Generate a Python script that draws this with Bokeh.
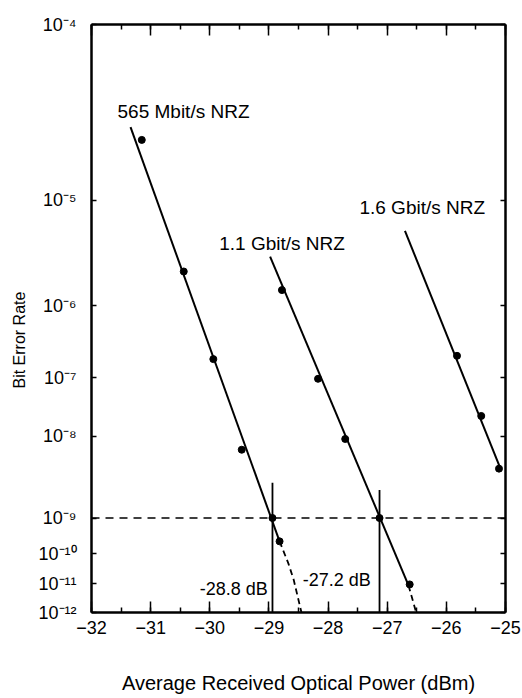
import numpy as np
from bokeh.plotting import figure
from bokeh.models import (Range1d, LinearAxis, FixedTicker, SingleIntervalTicker,
                          CustomJSTickFormatter, Span, Title)
from bokeh.embed import file_html
from bokeh.resources import INLINE
from bokeh.core.properties import value

# ---------------- axis definitions ----------------
X_MIN, X_MAX = -32, -25
Y_EXPONENTS = [-4, -5, -6, -7, -8, -9, -10, -11, -12]
Y_TICK_LABELS = ["10⁻⁴", "10⁻⁵", "10⁻⁶", "10⁻⁷", "10⁻⁸", "10⁻⁹", "10⁻¹⁰", "10⁻¹¹", "10⁻¹²"]
# non-uniform BER scale of the original chart: position of each decade (1e-12 -> 0, 1e-4 -> 588)
BER_SCALE = [588, 412.5, 307, 235, 176.5, 94.5, 59, 29, 0]

# ---------------- data ----------------
# measured points
pts565_x = [-31.15, -30.44, -29.94, -29.46, -28.94, -28.82]
pts565_ber = [2.2e-5, 2.1e-6, 1.8e-7, 6.8e-9, 1.0e-9, 2.2e-10]
pts11_x = [-28.78, -28.17, -27.71, -27.13, -26.62]
pts11_ber = [1.4e-6, 9.5e-8, 9.2e-9, 1.0e-9, 9.3e-12]
pts16_x = [-25.82, -25.41, -25.11]
pts16_ber = [2.0e-7, 2.2e-8, 4.0e-9]

# fitted lines (solid) and extrapolations (dashed)
fit565_x = [-31.34, -28.82]
fit565_ber = [2.6e-5, 2.2e-10]
ext565_x = [-28.82, -28.67, -28.58, -28.45]
ext565_ber = [2.2e-10, 4.6e-11, 1.3e-11, 1.0e-12]
fit11_x = [-28.98, -26.64]
fit11_ber = [2.9e-6, 8.6e-12]
ext11_x = [-26.64, -26.51]
ext11_ber = [8.6e-12, 1.0e-12]
fit16_x = [-26.70, -25.085]
fit16_ber = [5.1e-6, 4.0e-9]

# sensitivity markers at BER = 1e-9
REF_BER = 1e-9
sens_x = [-28.94, -27.13]
sens_top_ber = [2.7e-9, 2.2e-9]
sens_bottom_ber = [1e-12, 1e-12]
sens_labels = ["-28.8 dB", "-27.2 dB"]

series_labels = ["565 Mbit/s NRZ", "1.1 Gbit/s NRZ", "1.6 Gbit/s NRZ"]
series_label_x = [-31.56, -29.84, -27.47]
series_label_ber = [3.2e-5, 3.9e-6, 8.5e-6]

FONT = "Liberation Sans"


def ber_to_u(ber):
    e = np.log10(np.asarray(ber, dtype=float))
    return np.interp(-e, [-v for v in Y_EXPONENTS], BER_SCALE)


p = figure(width=522, height=698, output_backend="svg", toolbar_location=None,
           x_range=Range1d(X_MIN, X_MAX), y_range=Range1d(0, 588),
           min_border_left=90, min_border_right=17, min_border_top=24, min_border_bottom=86)
p.xgrid.visible = False
p.ygrid.visible = False
p.outline_line_color = None
p.background_fill_color = "white"
p.border_fill_color = "white"

# ---- bottom axis
xa = p.xaxis[0]
xa.ticker = SingleIntervalTicker(interval=1, num_minor_ticks=2)
xa.axis_line_width = 2.5
xa.axis_line_color = "black"
xa.major_tick_in = 11
xa.major_tick_out = 0
xa.minor_tick_in = 5
xa.minor_tick_out = 0
xa.major_tick_line_width = 1.5
xa.minor_tick_line_width = 1.5
xa.major_tick_line_color = "black"
xa.minor_tick_line_color = "black"
xa.major_label_text_font = FONT
xa.major_label_text_font_size = "18px"
xa.major_label_text_color = "black"
xa.major_label_standoff = 8
xa.axis_label = "Average Received Optical Power (dBm)"
xa.axis_label_text_font = FONT
xa.axis_label_text_font_size = "20px"
xa.axis_label_text_font_style = "normal"
xa.axis_label_text_color = "black"
xa.axis_label_standoff = 35

# ---- left axis
ya = p.yaxis[0]
ya.ticker = FixedTicker(ticks=BER_SCALE)
ya.major_label_overrides = {float(u): lab for u, lab in zip(BER_SCALE, Y_TICK_LABELS)}
ya.axis_line_width = 2.5
ya.axis_line_color = "black"
ya.major_tick_in = 5
ya.major_tick_out = 0
ya.minor_tick_line_color = None
ya.major_tick_line_width = 1.5
ya.major_tick_line_color = "black"
ya.major_label_text_font = FONT
ya.major_label_text_font_size = "18px"
ya.major_label_text_color = "black"
ya.major_label_standoff = 15

# ---- y title (left title, anchored from the bottom of the frame)
p.add_layout(Title(text="Bit Error Rate", align="left", offset=224, standoff=16,
                   text_font=FONT, text_font_size="16px", text_font_style="normal",
                   text_color="black"), "left")

# ---- top axis (ticks only)
top = LinearAxis(ticker=SingleIntervalTicker(interval=1, num_minor_ticks=2),
                 formatter=CustomJSTickFormatter(code="return ''"))
top.axis_line_width = 2.5
top.major_tick_in = 11
top.major_tick_out = 0
top.minor_tick_in = 5
top.minor_tick_out = 0
top.major_tick_line_width = 1.5
top.minor_tick_line_width = 1.5
top.major_label_text_font_size = "0px"
top.major_label_standoff = 0
p.add_layout(top, "above")

# ---- right axis (ticks only)
right = LinearAxis(ticker=FixedTicker(ticks=BER_SCALE),
                   formatter=CustomJSTickFormatter(code="return ''"))
right.axis_line_width = 2.5
right.major_tick_in = 5
right.major_tick_out = 0
right.minor_tick_line_color = None
right.major_tick_line_width = 1.5
right.major_label_text_font_size = "0px"
right.major_label_standoff = 0
p.add_layout(right, "right")

# ---- reference line at BER 1e-9
p.add_layout(Span(location=float(ber_to_u(REF_BER)), dimension="width",
                  line_color="black", line_width=1.5, line_dash="8 6"))

# ---- sensitivity verticals
p.segment(x0=sens_x, y0=ber_to_u(sens_top_ber), x1=sens_x, y1=ber_to_u(sens_bottom_ber),
          line_color="black", line_width=1.8)

# ---- fitted lines
for fx, fb in [(fit565_x, fit565_ber), (fit11_x, fit11_ber), (fit16_x, fit16_ber)]:
    p.line(fx, ber_to_u(fb), line_color="black", line_width=2)
for ex, eb in [(ext565_x, ext565_ber), (ext11_x, ext11_ber)]:
    p.line(ex, ber_to_u(eb), line_color="black", line_width=1.8, line_dash="6 4")

# ---- measured points
for px, pb in [(pts565_x, pts565_ber), (pts11_x, pts11_ber), (pts16_x, pts16_ber)]:
    p.scatter(px, ber_to_u(pb), size=7, marker="circle", fill_color="black", line_color="black")

# ---- series labels
p.text(x=series_label_x, y=ber_to_u(series_label_ber), text=series_labels,
       text_align="left", text_baseline="middle", text_font=value(FONT),
       text_font_size="19px", text_color="black")

# ---- sensitivity labels
p.text(x=[-29.02], y=ber_to_u([6.7e-12]), text=[sens_labels[0]], text_align="right",
       text_baseline="middle", text_font=value(FONT), text_font_size="18px", text_color="black")
p.text(x=[-28.43], y=ber_to_u([1.26e-11]), text=[sens_labels[1]], text_align="left",
       text_baseline="middle", text_font=value(FONT), text_font_size="18px", text_color="black")

open("out.html", "w").write(file_html(p, INLINE))
